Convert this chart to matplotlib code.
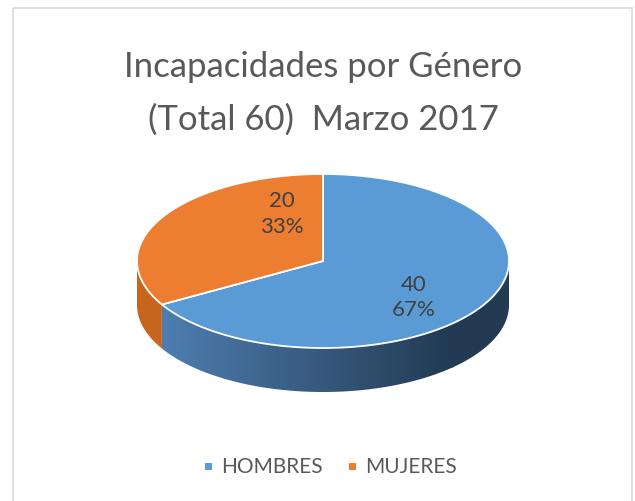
import numpy as np
import matplotlib.pyplot as plt
from matplotlib.patches import Polygon, Rectangle
from matplotlib.colors import LinearSegmentedColormap

# data
CATEGORIES = ['HOMBRES', 'MUJERES']
VALUES = [40, 20]
TOP_COLORS = ['#5b9bd5', '#ed7d31']
SIDE_COLORS = [('#5283b8', '#223a52'), ('#c8661e', '#b35a1a')]
TITLE_LINES = ['Incapacidades por Género', '(Total 60)  Marzo 2017']

# layout (pixels, y pointing down)
W, H = 635, 501
CX, CY = 323, 261
RX, RY = 186, 87
DEPTH = 44
LABEL_POS = [(0.49, 0.42), (-0.22, -0.54)]  # ellipse-normalised offsets
FONT = ['Lato', 'DejaVu Sans']


def ell(t, dy=0):
    t = np.radians(t)
    return np.column_stack([CX + RX * np.cos(t), CY - RY * np.sin(t) + dy])


fig = plt.figure(figsize=(W / 100, H / 100), dpi=100)
ax = fig.add_axes([0, 0, 1, 1])
ax.axis('off')

# chart frame
ax.add_patch(Rectangle((13, 8), 619, 520, fill=False, ec='#d9d9d9', lw=1.2))

total = sum(VALUES)
edges = [90]
for v in VALUES:
    edges.append(edges[-1] - 360 * v / total)

# sides (visible front half: angles -180..0)
for i in range(len(VALUES)):
    hi, lo = edges[i], edges[i + 1]
    for k in (-360, 0, 360):
        a, b = max(lo + k, -180), min(hi + k, 0)
        if a >= b:
            continue
        t = np.linspace(a, b, 80)
        pts = np.vstack([ell(t), ell(t[::-1], DEPTH)])
        poly = Polygon(pts, closed=True, fc='none', ec='none')
        ax.add_patch(poly)
        cmap = LinearSegmentedColormap.from_list('s%d' % i, SIDE_COLORS[i])
        grad = np.linspace(0, 1, 256).reshape(1, -1)
        x0, x1 = CX - RX, CX + RX * 0.7
        im = ax.imshow(grad, cmap=cmap, aspect='auto',
                       extent=(x0, x1, CY + RY + DEPTH + 5, CY - 5))
        im.set_clip_path(poly)
        dark = LinearSegmentedColormap.from_list('e%d' % i, [SIDE_COLORS[i][1]] * 2)
        ax.imshow(np.ones((1, 1)), cmap=dark, aspect='auto',
                  extent=(x1 - 1, CX + RX + 2, CY + RY + DEPTH + 5, CY - 5)).set_clip_path(poly)

ax.set_xlim(0, W)
ax.set_ylim(H, 0)

# top faces
for i in range(len(VALUES)):
    hi, lo = edges[i], edges[i + 1]
    t = np.linspace(hi, lo, 200)
    pts = np.vstack([[CX, CY], ell(t)])
    ax.add_patch(Polygon(pts, closed=True, fc=TOP_COLORS[i], ec='white', lw=1.3, joinstyle='round'))

# data labels
for i, v in enumerate(VALUES):
    fx, fy = LABEL_POS[i]
    ax.text(CX + fx * RX, CY + fy * RY, '%d\n%d%%' % (v, round(100 * v / total)),
            ha='center', va='center', fontsize=16, color='#404040',
            family=FONT, linespacing=1.35)

# title
for j, line in enumerate(TITLE_LINES):
    ax.text(W / 2 + 6, 77 + 53 * j, line, ha='center', va='baseline', fontsize=25,
            color='#595959', family=FONT)

# legend
leg_x = [208, 352]
for i, name in enumerate(CATEGORIES):
    ax.add_patch(Rectangle((leg_x[i] - 3.5, 463), 7, 7, fc=TOP_COLORS[i], ec='none'))
    ax.text(leg_x[i] + 13, 467, name, ha='left', va='center', fontsize=15,
            color='#595959', family=FONT)

fig.savefig('out.png', dpi=100)
